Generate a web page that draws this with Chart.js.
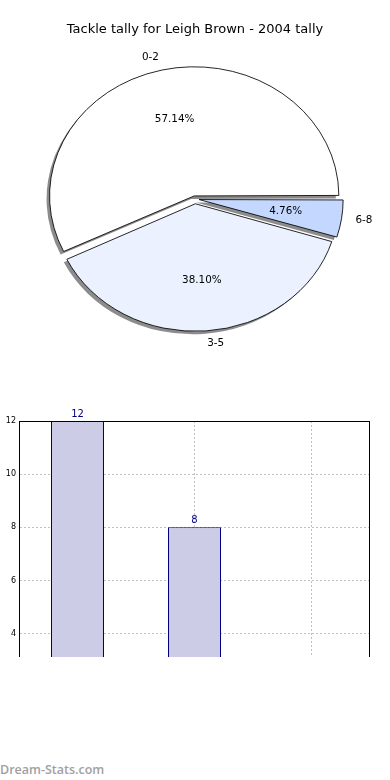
<!DOCTYPE html>
<html>
<head>
<meta charset="utf-8">
<script src="https://cdn.jsdelivr.net/npm/chart.js@4/dist/chart.umd.min.js"></script>
<style>
  body { margin: 0; background: #fff; width: 390px; height: 780px; position: relative; overflow: hidden; }
  #pieBox { position: absolute; left: 0; top: 0; }
  #barBox { position: absolute; left: 0; top: 400px; width: 390px; height: 257px; overflow: hidden; }
  #mark { position: absolute; left: 0; top: 761px; font: 600 12.5px "Open Sans", sans-serif; color: #a0a0a0; }
</style>
</head>
<body>
<div id="pieBox"><canvas id="pie" width="390" height="400"></canvas></div>
<div id="barBox"><canvas id="bar" width="390" height="380"></canvas></div>
<div id="mark">Dream-Stats.com</div>
<script>
const categories = ['0-2', '3-5', '6-8'];
const tallies = [12, 8, 1];
const sliceColours = ['#ffffff', '#ebf1ff', '#c4d8ff'];
const yTicks = [0, 2, 4, 6, 8, 10, 12];

const total = tallies.reduce((a, b) => a + b, 0);
const STRETCH = 1.12; // pie is drawn as an ellipse
const EXPLODE = 6.3;  // px each slice is pushed out

// pie goes clockwise from the right in chart.js, so feed it reversed
const pieLabels = categories.slice().reverse();
const pieValues = tallies.slice().reverse();
const pieColours = sliceColours.slice().reverse();

// chart.js v4 moves an arc by offset/4*(1+fix), undo that so every slice moves EXPLODE px
const fixOf = v => 1 - Math.sin(Math.min(Math.PI, v / total * 2 * Math.PI));
const pieOffsets = pieValues.map(v => 4 * EXPLODE / (1 + fixOf(v)));

const pieExtras = {
  id: 'pieExtras',
  beforeDatasetsDraw(chart) {
    const ctx = chart.ctx, a = chart.chartArea;
    const cx = (a.left + a.right) / 2, cy = (a.top + a.bottom) / 2;
    ctx.save();
    ctx.translate(cx, cy);
    ctx.scale(STRETCH, 1);
    ctx.translate(-cx, -cy);
    // shadows under all slices
    ctx.save();
    ctx.translate(-3 / STRETCH, 3);
    chart.getDatasetMeta(0).data.forEach(el => {
      const ghost = Object.create(el);
      ghost.options = Object.assign({}, el.options, { backgroundColor: 'rgba(0,0,0,0.45)', borderWidth: 0 });
      ghost.draw(ctx);
    });
    ctx.restore();
  },
  afterDatasetsDraw(chart) {
    const ctx = chart.ctx;
    ctx.restore();
    const meta = chart.getDatasetMeta(0);
    ctx.save();
    ctx.fillStyle = '#000';
    ctx.font = '10.4px "DejaVu Sans"';
    ctx.textBaseline = 'middle';
    meta.data.forEach((el, i) => {
      const p = el.getProps(['x', 'y', 'startAngle', 'endAngle', 'outerRadius'], true);
      const off = EXPLODE;
      const mid = (p.startAngle + p.endAngle) / 2;
      const at = k => [p.x + STRETCH * Math.cos(mid) * (off + k * p.outerRadius),
                       p.y + Math.sin(mid) * (off + k * p.outerRadius)];
      const pct = (pieValues[i] / total * 100).toFixed(2) + '%';
      let [x, y] = at(0.6);
      ctx.textAlign = 'center';
      ctx.fillText(pct, x, y);
      [x, y] = at(1.1);
      ctx.textAlign = Math.cos(mid) >= 0 ? 'left' : 'right';
      ctx.fillText(pieLabels[i], x, y);
    });
    ctx.restore();
  }
};

new Chart(document.getElementById('pie'), {
  type: 'pie',
  data: {
    labels: pieLabels,
    datasets: [{
      data: pieValues,
      backgroundColor: pieColours,
      borderColor: '#000',
      borderWidth: 0.8,
      offset: pieOffsets,
      radius: 126,
      clip: false
    }]
  },
  options: {
    responsive: false,
    devicePixelRatio: 1,
    animation: false,
    rotation: 90,
    layout: { padding: { top: 0, bottom: 39.6, left: 0, right: 0 } },
    plugins: {
      legend: { display: false },
      tooltip: { enabled: false },
      title: {
        display: true,
        text: 'Tackle tally for Leigh Brown - 2004 tally',
        color: '#000',
        font: { family: 'DejaVu Sans', size: 13, weight: 'normal' },
        padding: { top: 22, bottom: 0 }
      }
    }
  },
  plugins: [pieExtras]
});

const barExtras = {
  id: 'barExtras',
  afterDatasetsDraw(chart) {
    const ctx = chart.ctx, a = chart.chartArea;
    ctx.save();
    ctx.strokeStyle = '#000';
    ctx.lineWidth = 1;
    ctx.strokeRect(a.left + 0.5, a.top + 0.5, a.right - a.left - 1, a.bottom - a.top);
    ctx.fillStyle = '#000080';
    ctx.font = '10px "DejaVu Sans"';
    ctx.textAlign = 'center';
    ctx.textBaseline = 'bottom';
    chart.getDatasetMeta(0).data.forEach((bar, i) => {
      ctx.fillText(String(tallies[i]), bar.x, bar.y - 2);
    });
    ctx.restore();
  }
};

new Chart(document.getElementById('bar'), {
  type: 'bar',
  data: {
    labels: categories,
    datasets: [{
      data: tallies,
      backgroundColor: '#ccccE6',
      borderColor: '#000080',
      borderWidth: 1,
      barPercentage: 53 / 117,
      categoryPercentage: 1
    }]
  },
  options: {
    responsive: false,
    devicePixelRatio: 1,
    animation: false,
    layout: { padding: { top: 21, right: 20, left: 0, bottom: 0 } },
    plugins: { legend: { display: false }, tooltip: { enabled: false } },
    scales: {
      x: {
        offset: true,
        grid: { offset: false, color: '#c0c0c0', drawTicks: false },
        border: { color: '#000', dash: [2, 2] },
        ticks: { color: '#000', font: { family: 'DejaVu Sans', size: 8 } },
        afterFit(s) { s.height = 40; }
      },
      y: {
        min: yTicks[0],
        max: yTicks[yTicks.length - 1],
        afterBuildTicks(s) { s.ticks = yTicks.map(v => ({ value: v })); },
        grid: { color: '#c0c0c0', drawTicks: false },
        border: { color: '#000', dash: [2, 2] },
        ticks: { color: '#000', padding: 3, font: { family: 'DejaVu Sans', size: 8 } },
        title: {
          display: true,
          text: 'Stat value',
          color: '#000',
          font: { family: 'DejaVu Sans', size: 12 },
          padding: { top: -10, bottom: 0 }
        },
        afterFit(s) { s.width = 19; }
      }
    }
  },
  plugins: [barExtras]
});
</script>
</body>
</html>
